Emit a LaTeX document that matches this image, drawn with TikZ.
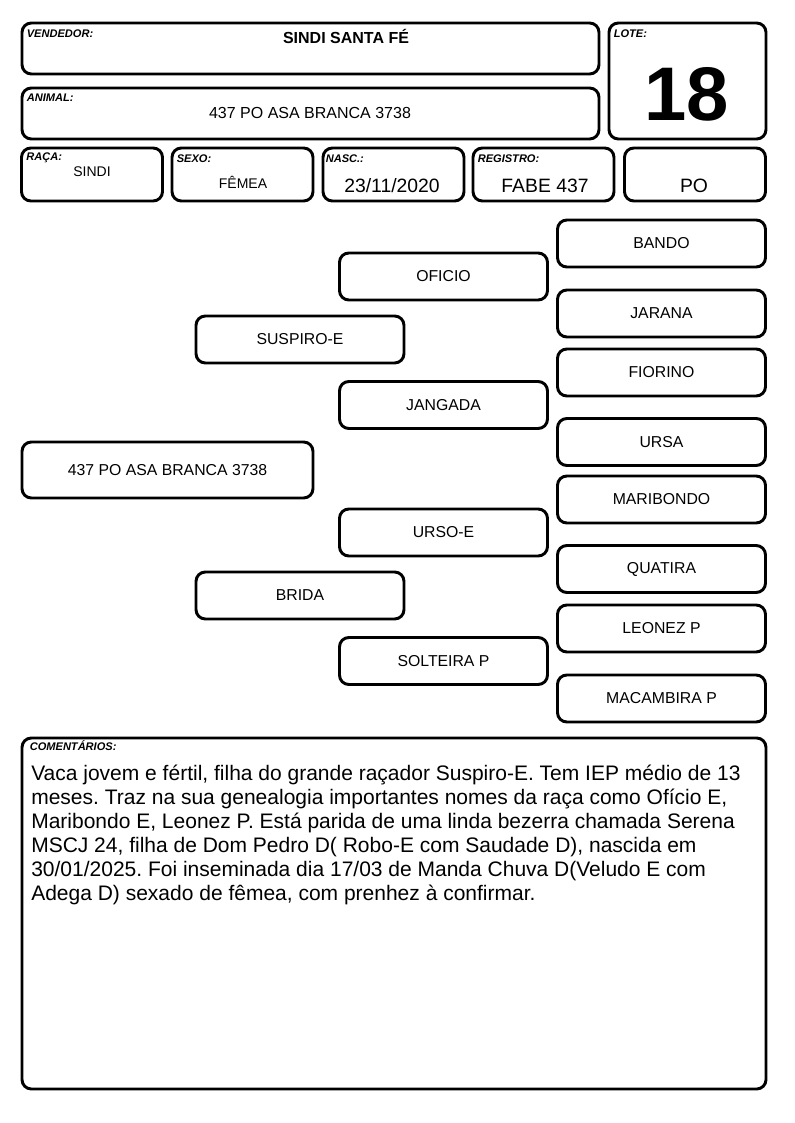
\documentclass[tikz,border=0pt]{standalone}
\usepackage{fontspec}
\setmainfont{Liberation Sans}
\frenchspacing
\usetikzlibrary{calc}
\tikzstyle{box} = [draw, line width=2.2pt, rounded corners=7pt, inner sep=0pt]
\tikzstyle{pedbox} = [box, minimum width=156pt, minimum height=35.25pt, font=\fontsize{11.85}{13}\selectfont]
\tikzstyle{smallbox} = [box, minimum width=105.75pt, minimum height=39.75pt]
\tikzstyle{tag} = [anchor=base west, inner sep=0pt, font=\fontsize{8.3}{9}\selectfont\bfseries\itshape]
\tikzstyle{value} = [anchor=base, inner sep=0pt]
\tikzstyle{bigvalue} = [value, font=\fontsize{14.5}{16}\selectfont]

\begin{document}
\begin{tikzpicture}[x=0.75pt, y=-0.75pt]
    \useasboundingbox (0,0) rectangle (794,1123);
        % header
        \node[box, minimum width=432.75pt, minimum height=38.25pt] (vend) at (310.5,48.5) {};
        \node[box, minimum width=432.75pt, minimum height=38.25pt] (anim) at (310.5,113.5) {};
        \node[box, minimum width=117.75pt, minimum height=87pt] (lote) at (687.5,81) {};
        \node[smallbox] (raca) at (92,174.5) {};
        \node[smallbox] (sexo) at (242.5,174.5) {};
        \node[smallbox] (nasc) at (393.5,174.5) {};
        \node[smallbox] (reg) at (543.5,174.5) {};
        \node[smallbox] (cat) at (695,174.5) {};
        \node[tag] (vendtag) at ($(vend.north west)+(6,16)$) {VENDEDOR:};
        \node[tag] (animtag) at ($(anim.north west)+(6,15)$) {ANIMAL:};
        \node[tag] (lotetag) at ($(lote.north west)+(6,16)$) {LOTE:};
        \node[tag] (racatag) at ($(raca.north west)+(6,14)$) {RAÇA:};
        \node[tag] (sexotag) at ($(sexo.north west)+(6,16)$) {SEXO:};
        \node[tag] (nasctag) at ($(nasc.north west)+(4,16)$) {NASC.:};
        \node[tag] (regtag) at ($(reg.north west)+(6,16)$) {REGISTRO:};
        \node[value, font=\fontsize{12}{14}\selectfont\bfseries] (vendval) at (346,44) {SINDI SANTA FÉ};
        \node[value, font=\fontsize{12}{13}\selectfont] (animval) at (310,118.5) {437 PO ASA BRANCA 3738};
        \node[value, font=\fontsize{57}{60}\selectfont\bfseries] (loteval) at (687,121) {18};
        \node[value, font=\fontsize{10.5}{12}\selectfont] (racaval) at (92,177) {SINDI};
        \node[value, font=\fontsize{10.5}{12}\selectfont] (sexoval) at (243,189) {FÊMEA};
        \node[bigvalue] (nascval) at (392,193) {23/11/2020};
        \node[bigvalue] (regval) at (545,193) {FABE 437};
        \node[bigvalue] (catval) at (694,193) {PO};
        % pedigree
        \node[pedbox, minimum width=218.25pt, minimum height=42pt] (self) at (167.5,470) {437 PO ASA BRANCA 3738};
        \node[pedbox] (sire) at (300,339.5) {SUSPIRO-E};
        \node[pedbox] (dam) at (300,595.5) {BRIDA};
        \node[pedbox] (ss) at (443.5,276.5) {OFICIO};
        \node[pedbox] (sd) at (443.5,405) {JANGADA};
        \node[pedbox] (ds) at (443.5,532.5) {URSO-E};
        \node[pedbox] (dd) at (443.5,661) {SOLTEIRA P};
        \node[pedbox] (sss) at (661.5,243.5) {BANDO};
        \node[pedbox] (ssd) at (661.5,313.5) {JARANA};
        \node[pedbox] (sds) at (661.5,372.5) {FIORINO};
        \node[pedbox] (sdd) at (661.5,442) {URSA};
        \node[pedbox] (dss) at (661.5,499.5) {MARIBONDO};
        \node[pedbox] (dsd) at (661.5,569) {QUATIRA};
        \node[pedbox] (dds) at (661.5,628.5) {LEONEZ P};
        \node[pedbox] (ddd) at (661.5,698.5) {MACAMBIRA P};
        % comments
        \node[box, minimum width=558pt, minimum height=263.25pt] (com) at (394,913.5) {};
        \node[tag] (comtag) at ($(com.north west)+(9,14)$) {COMENTÁRIOS:};
        \node[anchor=north west, inner sep=0pt, align=left, font=\fontsize{15.75}{18}\selectfont] (comtext) at (31,765)
            {Vaca jovem e fértil, filha do grande raçador Suspiro-E. Tem IEP médio de 13\\
             meses. Traz na sua genealogia importantes nomes da raça como Ofício E,\\
             Maribondo E, Leonez P. Está parida de uma linda bezerra chamada Serena\\
             MSCJ 24, filha de Dom Pedro D( Robo-E com Saudade D), nascida em\\
             30/01/2025. Foi inseminada dia 17/03 de Manda Chuva D(Veludo E com\\
             Adega D) sexado de fêmea, com prenhez à confirmar.};
    \end{tikzpicture}
\end{document}
